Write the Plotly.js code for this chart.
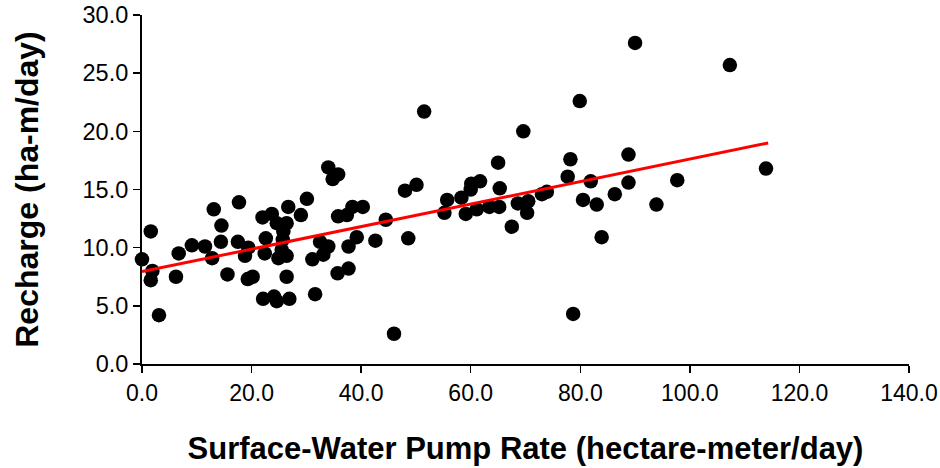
<!DOCTYPE html>
<html>
<head>
<meta charset="utf-8">
<script src="https://cdn.plot.ly/plotly-3.0.1.min.js"></script>
<style>html,body{margin:0;padding:0;background:#fff;}#chart{width:940px;height:468px;}</style>
</head>
<body>
<div id="chart"></div>
<script>
// Surface-water pump rate (hectare-meter/day)
const pumpRate = [
  0.0, 1.6, 1.9, 1.6, 3.1,
  6.2, 6.7, 9.1, 11.5, 12.8, 13.1, 14.5, 14.4, 15.6, 17.7, 17.5, 19.4, 18.8, 19.3, 20.2,
  22.0, 23.7, 24.6, 26.4, 26.7, 25.8, 25.7, 22.6, 22.4, 25.5, 24.9, 26.4, 26.4, 22.1, 24.1, 24.6, 26.9, 29.0, 30.1,
  31.6, 31.1, 33.1, 32.5, 34.0, 34.0, 35.8, 34.8, 35.8, 37.4, 38.4, 40.3, 37.7, 39.2, 35.7, 37.7, 42.6, 44.5, 48.0, 50.1, 48.6, 46.0, 51.5,
  55.2, 55.7, 58.3, 59.1, 61.1, 60.1, 60.0, 61.7, 63.4, 65.2, 65.0, 65.3,
  67.5, 68.6, 70.5, 70.3, 69.6, 73.0, 73.9, 78.2, 77.7, 79.9, 78.7, 80.5, 81.9, 83.0, 83.9, 86.3, 88.8, 88.8, 90.0, 93.9, 97.7, 107.3, 113.9
];
// Recharge (ha-m/day)
const recharge = [
  9.0, 11.4, 8.0, 7.2, 4.2,
  7.5, 9.5, 10.2, 10.1, 9.1, 13.3, 11.9, 10.5, 7.7, 13.9, 10.5, 10.0, 9.3, 7.3, 7.5,
  12.6, 12.9, 12.1, 12.1, 13.5, 11.4, 10.7, 10.8, 9.5, 9.8, 9.1, 9.3, 7.5, 5.6, 5.8, 5.4, 5.6, 12.8, 14.2,
  6.0, 9.0, 9.4, 10.5, 10.1, 16.9, 16.3, 15.9, 12.7, 12.8, 13.5, 13.5, 10.1, 10.9, 7.8, 8.2, 10.6, 12.4, 14.9, 15.4, 10.8, 2.6, 21.7,
  13.0, 14.1, 14.3, 12.9, 13.3, 15.5, 15.0, 15.7, 13.5, 13.5, 17.3, 15.1,
  11.8, 13.8, 14.0, 13.0, 20.0, 14.6, 14.8, 17.6, 16.1, 22.6, 4.3, 14.1, 15.7, 13.7, 10.9, 14.6, 18.0, 15.6, 27.6, 13.7, 15.8, 25.7, 16.8
];
// Linear trend line end points
const trendX = [0.0, 114.3];
const trendY = [7.94, 19.0];

const xTickVals = [0, 20, 40, 60, 80, 100, 120, 140];
const xTickText = ["0.0", "20.0", "40.0", "60.0", "80.0", "100.0", "120.0", "140.0"];
const yTickVals = [0, 5, 10, 15, 20, 25, 30];
const yTickText = ["0.0", "5.0", "10.0", "15.0", "20.0", "25.0", "30.0"];

const traces = [
  {
    x: pumpRate, y: recharge, type: 'scatter', mode: 'markers',
    marker: {color: '#000000', size: 14.5, line: {width: 0}},
    cliponaxis: false, showlegend: false, hoverinfo: 'x+y'
  },
  {
    x: trendX, y: trendY, type: 'scatter', mode: 'lines',
    line: {color: '#ff0000', width: 3},
    cliponaxis: false, showlegend: false
  }
];

const fontFam = '"Liberation Sans", Arial, sans-serif';
const layout = {
  width: 940, height: 468,
  margin: {l: 142, r: 31, t: 15, b: 104},
  paper_bgcolor: '#ffffff', plot_bgcolor: '#ffffff',
  font: {family: fontFam, color: '#000000'},
  xaxis: {
    range: [0, 140], tickmode: 'array', tickvals: xTickVals, ticktext: xTickText,
    showgrid: false, zeroline: false, showline: true, linecolor: '#000', linewidth: 2,
    ticks: 'outside', ticklen: 7, tickwidth: 1.5, tickcolor: '#000',
    tickfont: {family: fontFam, size: 23, color: '#000'},
    title: {text: 'Surface-Water Pump Rate (hectare-meter/day)', font: {family: fontFam, size: 31, color: '#000', weight: 'bold'}, standoff: 33},
    fixedrange: true
  },
  yaxis: {
    range: [0, 30], tickmode: 'array', tickvals: yTickVals, ticktext: yTickText,
    showgrid: false, zeroline: false, showline: true, linecolor: '#000', linewidth: 2,
    ticks: 'outside', ticklen: 7, tickwidth: 1.5, tickcolor: '#000',
    tickfont: {family: fontFam, size: 23.5, color: '#000'},
    title: {text: 'Recharge (ha-m/day)', font: {family: fontFam, size: 32, color: '#000', weight: 'bold'}, standoff: 34},
    fixedrange: true
  }
};

Plotly.newPlot('chart', traces, layout, {displayModeBar: false, staticPlot: true});
</script>
</body>
</html>
